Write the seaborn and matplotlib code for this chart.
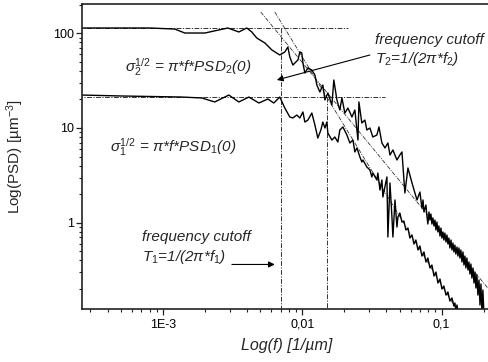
import numpy as np
import pandas as pd
import matplotlib
matplotlib.use("Agg")
import matplotlib.pyplot as plt
import seaborn as sns
from matplotlib.ticker import LogLocator, NullFormatter, FixedLocator, FixedFormatter

# ---------------- data (log10 values) ----------------
# series 2 : upper spectrum (PSD2)
log_f2 = [-3.584, -3.096, -2.916, -2.844, -2.700, -2.535, -2.456, -2.399, -2.363, -2.327,
          -2.269, -2.219, -2.162, -2.126, -2.104, -2.090, -2.068, -2.032, -2.018, -2.004,
          -1.996, -1.982, -1.960, -1.932, -1.910, -1.896, -1.874, -1.853, -1.838, -1.817,
          -1.788, -1.774, -1.752, -1.731, -1.716, -1.695, -1.673, -1.644, -1.623, -1.601,
          -1.594, -1.573, -1.551, -1.537, -1.515, -1.494, -1.465, -1.450, -1.429, -1.407,
          -1.386, -1.371, -1.350, -1.321, -1.300, -1.285, -1.264, -1.242, -1.213, -1.192,
          -1.177, -1.156,
          -1.142, -1.134, -1.127, -1.113, -1.106, -1.099, -1.091, -1.084, -1.077, -1.070,
          -1.063, -1.055, -1.048, -1.041, -1.034, -1.027, -1.020, -1.012, -1.005, -0.998,
          -0.991, -0.984, -0.977, -0.969, -0.962, -0.955, -0.948, -0.941, -0.933, -0.926,
          -0.919, -0.912, -0.905, -0.898, -0.890, -0.883, -0.876, -0.869, -0.862, -0.854,
          -0.847, -0.840, -0.833, -0.826, -0.819, -0.811, -0.804, -0.797, -0.790, -0.783,
          -0.775, -0.768, -0.761, -0.754, -0.747, -0.740, -0.732, -0.725, -0.718, -0.711,
          -0.704, -0.697]
log_psd2 = [2.056, 2.056, 2.045, 2.003, 2.003, 2.056, 2.014, 2.056, 2.014, 1.950,
            1.898, 1.824, 1.771, 1.803, 1.855, 1.750, 1.665, 1.718, 1.803, 1.792,
            1.686, 1.581, 1.634, 1.612, 1.560, 1.454, 1.380, 1.454, 1.296, 1.370,
            1.243, 1.507, 1.296, 1.190, 1.317, 1.158, 1.211, 1.116, 1.190, 0.873,
            1.275, 1.053, 1.084, 0.979, 1.000, 0.905, 0.926, 1.011, 0.842, 0.789,
            0.842, 0.715, 0.768, 0.662, 0.715, 0.747, 0.314, 0.578, 0.420, 0.314,
            0.240, 0.324,
            0.155, 0.240, 0.113, 0.187, 0.071, -0.014, 0.113, 0.028, 0.092, -0.014,
            0.050, -0.035, 0.028, -0.077, 0.007, -0.098, -0.035, -0.141, -0.056, -0.162,
            -0.098, -0.183, -0.109, -0.204, -0.130, -0.225, -0.162, -0.267, -0.183, -0.288,
            -0.215, -0.309, -0.236, -0.331, -0.257, -0.352, -0.267, -0.373, -0.288, -0.415,
            -0.309, -0.447, -0.352, -0.478, -0.373, -0.500, -0.415, -0.542, -0.436, -0.584,
            -0.478, -0.637, -0.521, -0.690, -0.552, -0.764, -0.605, -0.869, -0.647, -0.950,
            -0.711, -0.950]

# series 1 : lower spectrum (PSD1)
log_f1 = [-3.584, -3.297, -2.866, -2.722, -2.629, -2.528, -2.456, -2.384, -2.312, -2.248,
          -2.205, -2.162, -2.126, -2.090, -2.068, -2.040, -2.018, -1.996, -1.982, -1.960,
          -1.932, -1.910, -1.889, -1.867, -1.853, -1.838, -1.824, -1.817, -1.788, -1.767,
          -1.745, -1.731, -1.709, -1.680, -1.659, -1.637, -1.623, -1.608, -1.587, -1.573,
          -1.565, -1.537, -1.515, -1.501, -1.494, -1.465, -1.458, -1.443, -1.429, -1.422,
          -1.393, -1.386, -1.371, -1.357, -1.350, -1.335, -1.321, -1.314, -1.300, -1.285,
          -1.271, -1.257, -1.242, -1.228, -1.213, -1.199, -1.185, -1.170, -1.156, -1.142,
          -1.127, -1.113, -1.099, -1.084, -1.070, -1.055, -1.041, -1.027, -1.012, -0.998,
          -0.984, -0.969, -0.955, -0.941, -0.926, -0.912, -0.905, -0.898, -0.890, -0.883]
log_psd1 = [1.348, 1.338, 1.327, 1.317, 1.275, 1.348, 1.275, 1.327, 1.264, 1.306,
            1.264, 1.327, 1.211, 1.116, 1.106, 1.137, 1.106, 1.169, 1.063, 1.084,
            1.158, 1.032, 0.894, 0.979, 1.063, 1.000, 1.063, 0.947, 0.873, 0.905,
            0.852, 0.979, 1.011, 0.926, 0.842, 0.873, 0.747, 0.789, 0.694, 0.641,
            0.662, 0.588, 0.557, 0.483, 0.525, 0.451, 0.525, 0.345, 0.451, 0.271,
            0.483, -0.151, 0.420, 0.060, -0.151, 0.240, -0.046, 0.060, 0.102, 0.007,
            0.018, -0.077, -0.056, -0.162, -0.130, -0.225, -0.183, -0.288, -0.246, -0.352,
            -0.309, -0.415, -0.373, -0.478, -0.447, -0.563, -0.521, -0.637, -0.595, -0.700,
            -0.669, -0.764, -0.732, -0.827, -0.795, -0.880, -0.848, -0.922, -0.869, -0.943]

# power-law fit lines (end points, log10)
fit2_log_f = [-2.299, -0.600]
fit2_log_psd = [2.225, -0.813]
fit1_log_f = [-2.198, -0.800]
fit1_log_psd = [2.225, -1.139]

# plateau levels PSD(0) and cutoff frequencies
level2, level1 = 112.5, 21.2
level2_fmax, level1_fmax = 0.0212, 0.0392
cutoff1, cutoff2 = 0.00702, 0.01514

x_ticks = [1e-3, 1e-2, 1e-1]
x_tick_labels = ["1E-3", "0,01", "0,1"]
y_ticks = [1, 10, 100]
y_tick_labels = ["1", "10", "100"]

# ---------------- style ----------------
sns.set_theme(style="ticks")
plt.rcParams["font.family"] = ["Liberation Sans", "DejaVu Sans"]
plt.rcParams["mathtext.fontset"] = "custom"
plt.rcParams["mathtext.rm"] = "Liberation Sans"
plt.rcParams["mathtext.it"] = "Liberation Sans:italic"
plt.rcParams["mathtext.bf"] = "Liberation Sans:bold"

W, H = 489, 362
fig = plt.figure(figsize=(W / 100, H / 100), dpi=100)
left_px, right_px, top_px, bot_px = 81.7, 492.0, 4.0, 309.3
ax = fig.add_axes([left_px / W, (H - bot_px) / H,
                   (right_px - left_px) / W, (bot_px - top_px) / H])
ax.set_xscale("log")
ax.set_yscale("log")

df2 = pd.DataFrame({"f": 10 ** np.array(log_f2), "psd": 10 ** np.array(log_psd2)})
df1 = pd.DataFrame({"f": 10 ** np.array(log_f1), "psd": 10 ** np.array(log_psd1)})

dd = (0, (5, 1.5, 1.2, 1.5))
dcol = "#333333"

# reference lines
ax.plot([1e-4, level2_fmax], [level2, level2], color=dcol, lw=0.7, ls=dd, zorder=1)
ax.plot([1e-4, level1_fmax], [level1, level1], color=dcol, lw=0.7, ls=dd, zorder=1)
ax.plot([cutoff1, cutoff1], [level2, 0.01], color=dcol, lw=0.7, ls=dd, zorder=1)
ax.plot([cutoff2, cutoff2], [level1, 0.01], color=dcol, lw=0.7, ls=dd, zorder=1)
ax.plot(10 ** np.array(fit2_log_f), 10 ** np.array(fit2_log_psd), color=dcol, lw=0.6, ls=dd, zorder=1)
ax.plot(10 ** np.array(fit1_log_f), 10 ** np.array(fit1_log_psd), color=dcol, lw=0.6, ls=dd, zorder=1)

sns.lineplot(data=df2, x="f", y="psd", ax=ax, color="black", lw=1.0,
             sort=False, estimator=None, zorder=2)
sns.lineplot(data=df1, x="f", y="psd", ax=ax, color="black", lw=1.0,
             sort=False, estimator=None, zorder=2)

ax.set_xlim(10 ** -3.584, 10 ** (-3 + (right_px - 163.3) / 139.2))
ax.set_ylim(10 ** (2 - (bot_px - 33.3) / 94.7), 10 ** (2 + (33.3 - top_px) / 94.7))

ax.xaxis.set_major_locator(FixedLocator(x_ticks))
ax.xaxis.set_major_formatter(FixedFormatter(x_tick_labels))
ax.yaxis.set_major_locator(FixedLocator(y_ticks))
ax.yaxis.set_major_formatter(FixedFormatter(y_tick_labels))
ax.xaxis.set_minor_locator(LogLocator(base=10, subs=np.arange(2, 10)))
ax.yaxis.set_minor_locator(LogLocator(base=10, subs=np.arange(2, 10)))
ax.xaxis.set_minor_formatter(NullFormatter())
ax.yaxis.set_minor_formatter(NullFormatter())

ax.tick_params(which="major", direction="out", length=4.3, width=0.9, color="#222222",
               labelsize=9, labelcolor="black")
ax.tick_params(which="minor", direction="out", length=2.5, width=0.8, color="#222222")
ax.tick_params(axis="y", which="both", pad=1)
ax.tick_params(axis="x", which="major", pad=2.5)

for s in ["left", "bottom", "top"]:
    ax.spines[s].set_color("#222222")
    ax.spines[s].set_linewidth(1.2)
ax.spines["right"].set_visible(False)

ax.set_xlabel("Log(f) [1/µm]", fontsize=11.5, style="italic")
ax.set_ylabel("Log(PSD) [µm$^{-3}$]", fontsize=11)
ax.xaxis.set_label_coords(0.5, -(338 - bot_px) / (bot_px - top_px))
ax.yaxis.set_label_coords(-(81.7 - 26) / (right_px - left_px), 0.5)

# ---------------- annotations ----------------
def ftext(px, py, s, **kw):
    fig.text(px / W, (H - py) / H, s, ha="left", va="baseline", **kw)

ftext(375, 44, "frequency cutoff", fontsize=11, style="italic")
ftext(375, 63, r"T$_{\mathit{2}}$=1/(2π*f$_{\mathit{2}}$)", fontsize=11, style="italic")
ftext(142, 241, "frequency cutoff", fontsize=11, style="italic")
ftext(142, 261, r"T$_{\mathit{1}}$=1/(2π*f$_{\mathit{1}}$)", fontsize=11, style="italic")
ftext(125, 72, r"$\sigma_{\mathit{2}}^{\mathit{1/2}}$ = π*f*PSD$_{\mathit{2}}$(0)", fontsize=11, style="italic")
ftext(110, 152, r"$\sigma_{\mathit{1}}^{\mathit{1/2}}$ = π*f*PSD$_{\mathit{1}}$(0)", fontsize=11, style="italic")

arrow_kw = dict(arrowstyle="-|>", lw=0.8, color="black", mutation_scale=9,
                shrinkA=0, shrinkB=0)
ax.annotate("", xy=(10 ** -2.183, 10 ** 1.507), xytext=(10 ** -1.515, 10 ** 1.771),
            arrowprops=arrow_kw)
ax.annotate("", xy=(10 ** -2.198, 10 ** -0.441), xytext=(10 ** -2.506, 10 ** -0.441),
            arrowprops=arrow_kw)

fig.savefig("out.png", dpi=100)
